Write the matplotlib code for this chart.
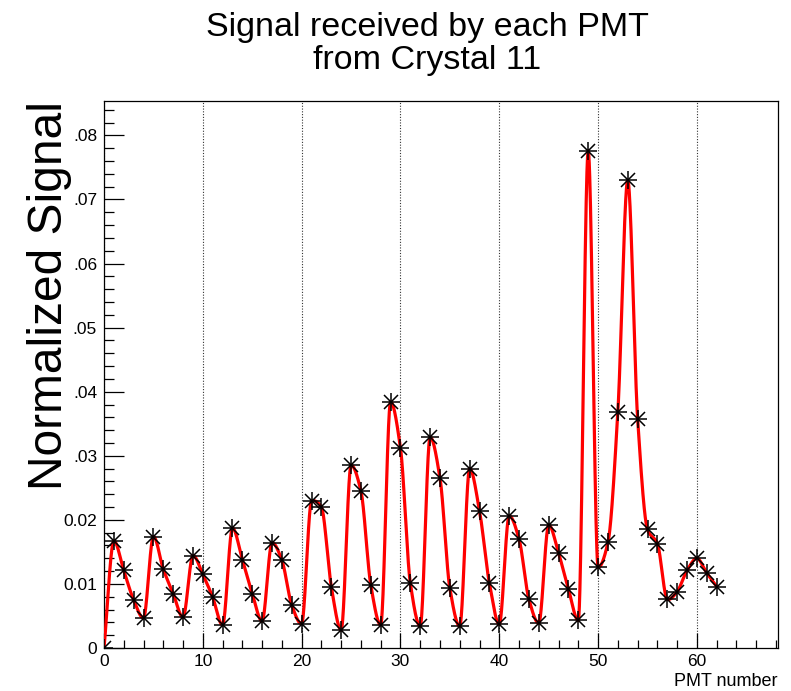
import numpy as np
import matplotlib
matplotlib.use("Agg")
import matplotlib.pyplot as plt
from matplotlib.ticker import MultipleLocator

plt.rcParams['font.family'] = ['Liberation Sans', 'DejaVu Sans']

# signal per PMT
pmt = np.arange(0, 63)
signal = [0.0, 0.0167, 0.0121, 0.0075, 0.0047, 0.0174, 0.0123, 0.0085, 0.0048, 0.0144,
          0.0115, 0.0079, 0.0036, 0.0187, 0.0138, 0.0085, 0.0042, 0.0164, 0.0137, 0.0067,
          0.0038, 0.0229, 0.0220, 0.0096, 0.0028, 0.0285, 0.0245, 0.0098, 0.0036, 0.0384,
          0.0312, 0.0101, 0.0034, 0.0329, 0.0265, 0.0093, 0.0034, 0.0280, 0.0214, 0.0101,
          0.0037, 0.0206, 0.0170, 0.0076, 0.0039, 0.0192, 0.0148, 0.0092, 0.0043, 0.0776,
          0.0126, 0.0165, 0.0369, 0.0730, 0.0358, 0.0185, 0.0163, 0.0076, 0.0088, 0.0121,
          0.0140, 0.0117, 0.0096]
ytick_values = [0, 0.01, 0.02, 0.03, 0.04, 0.05, 0.06, 0.07, 0.08]
ytick_labels = ["0", "0.01", "0.02", ".03", ".04", ".05", ".06", ".07", ".08"]
xtick_values = [0, 10, 20, 30, 40, 50, 60]


def smooth_curve(x, y, sx, sy, n=40):
    """Hermite curve; slope at each point follows the bisector of the
    neighbouring chords, measured in screen (pixel) space."""
    X = np.asarray(x, float) * sx
    Y = np.asarray(y, float) * sy
    c = np.column_stack([np.diff(X), np.diff(Y)])
    u = c / np.linalg.norm(c, axis=1)[:, None]
    d = np.vstack([u[:1], u[:-1] + u[1:], u[-1:]])
    m = d[:, 1] / d[:, 0]
    xs, ys = [], []
    t = np.linspace(0, 1, n)
    h00 = 2 * t**3 - 3 * t**2 + 1
    h10 = t**3 - 2 * t**2 + t
    h01 = -2 * t**3 + 3 * t**2
    h11 = t**3 - t**2
    for i in range(len(X) - 1):
        h = X[i + 1] - X[i]
        seg = h00 * Y[i] + h10 * h * m[i] + h01 * Y[i + 1] + h11 * h * m[i + 1]
        xs.append(X[i] + t * h)
        ys.append(seg)
    return np.concatenate(xs) / sx, np.concatenate(ys) / sy


fig = plt.figure(figsize=(7.91, 6.91), dpi=100)
ax = fig.add_axes([0.1315, 0.0622, 0.852, 0.7916])

# ROOT-like axis range: 10% margin above data
xmax = 1.1 * pmt.max()
ymax = 1.1 * max(signal)
ax.set_xlim(0, xmax)
ax.set_ylim(0, ymax)

# draw curve
cx, cy = smooth_curve(pmt, signal, 674 / xmax, 547 / ymax)
ax.plot(cx, cy, color='red', lw=2.3, zorder=3)
ax.plot(pmt, signal, ls='none', marker='x', ms=10, mew=1.1, color='black', zorder=4)
ax.plot(pmt, signal, ls='none', marker='+', ms=13, mew=1.1, color='black', zorder=4)

# axes styling
ax.xaxis.set_major_locator(plt.FixedLocator(xtick_values))
ax.xaxis.set_minor_locator(MultipleLocator(2))
ax.set_yticks(ytick_values)
ax.set_yticklabels(ytick_labels)
ax.yaxis.set_minor_locator(MultipleLocator(0.002))
ax.tick_params(axis='x', which='major', direction='in', length=11, width=0.9, labelsize=12.5, pad=4)
ax.tick_params(axis='x', which='minor', direction='in', length=5.8, width=0.9)
ax.tick_params(axis='y', which='major', direction='in', length=14.4, width=0.9, labelsize=12.5, pad=5)
ax.tick_params(axis='y', which='minor', direction='in', length=7.2, width=0.9)
ax.grid(axis='x', which='major', ls=(0, (1, 1.5)), color='#333333', lw=0.8)
for s in ax.spines.values():
    s.set_linewidth(0.9)

fig.text(427 / 791, 1 - 44 / 691, "Signal received by each PMT\nfrom Crystal 11",
         ha='center', va='center', fontsize=24.5, linespacing=1.05)
fig.text(50 / 791, 1 - 295 / 691, "Normalized Signal", rotation=90,
         ha='center', va='center', fontsize=34.5)
fig.text(778 / 791, 1 - 681 / 691, "PMT number", ha='right', va='center', fontsize=13)

fig.savefig("out.png", dpi=100)
